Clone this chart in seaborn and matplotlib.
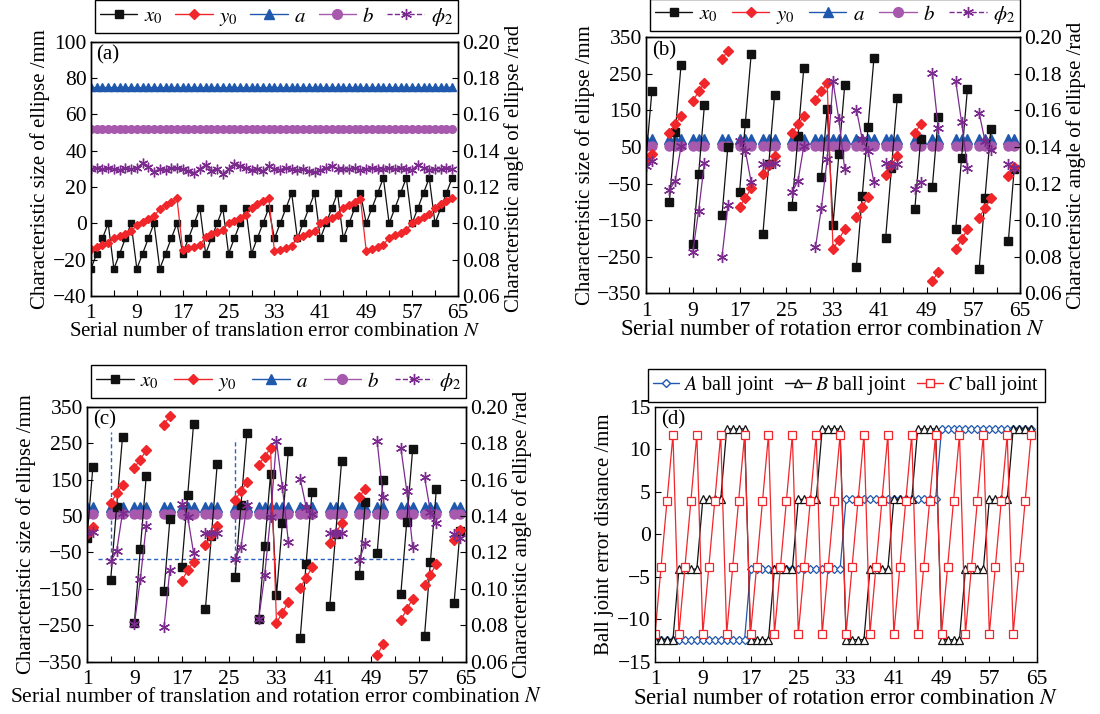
import numpy as np
import pandas as pd
import matplotlib
matplotlib.use("Agg")
import matplotlib.pyplot as plt
from matplotlib.lines import Line2D
from matplotlib.ticker import FormatStrFormatter
import seaborn as sns

nan = np.nan
N = np.arange(1, 65)

# (a) translation error combinations
a_x0 = [
    -25, -16.7, -8.3, 0, -25, -16.7, -8.3, 0, -25, -16.7, -8.3, 0, -25, -16.7, -8.3, 0,
    -16.7, -8.3, 0, 8.3, -16.7, -8.3, 0, 8.3, -16.7, -8.3, 0, 8.3, -16.7, -8.3, 0, 8.3,
    -8.3, 0, 8.3, 16.7, -8.3, 0, 8.3, 16.7, -8.3, 0, 8.3, 16.7, -8.3, 0, 8.3, 16.7,
    0, 8.3, 16.7, 25, 0, 8.3, 16.7, 25, 0, 8.3, 16.7, 25, 0, 8.3, 16.7, 25,
]
a_y0 = [
    -14.0, -13.2, -12.1, -11.0, -8.3, -7.1, -5.6, -4.4, -1.0, 0.8, 2.4, 4.0, 8.0, 9.9, 11.8, 13.8,
    -14.8, -13.8, -12.8, -11.7, -7.5, -6.1, -4.8, -3.5, 0.0, 1.5, 3.0, 4.6, 8.6, 10.4, 12.2, 14.0,
    -15.2, -14.4, -13.4, -12.2, -8.2, -6.8, -5.5, -4.0, 0.0, 1.6, 3.2, 4.8, 8.4, 10.2, 12.0, 13.4,
    -15.0, -14.0, -13.0, -11.8, -7.8, -6.5, -5.2, -3.8, 0.2, 1.8, 3.4, 5.0, 8.6, 10.4, 12.2, 14.2,
]
a_size_a = [75.0] * 64
a_size_b = [52.0] * 64
a_phi2 = [
    0.1300, 0.1305, 0.1298, 0.1302, 0.1300, 0.1296, 0.1303, 0.1299, 0.1306, 0.1330, 0.1310, 0.1285, 0.1300, 0.1296, 0.1302, 0.1304,
    0.1298, 0.1290, 0.1276, 0.1300, 0.1322, 0.1290, 0.1300, 0.1272, 0.1300, 0.1326, 0.1318, 0.1302, 0.1296, 0.1300, 0.1288, 0.1318,
    0.1300, 0.1296, 0.1304, 0.1300, 0.1293, 0.1300, 0.1288, 0.1280, 0.1292, 0.1303, 0.1318, 0.1300, 0.1298, 0.1300, 0.1304, 0.1296,
    0.1300, 0.1302, 0.1298, 0.1300, 0.1305, 0.1298, 0.1302, 0.1300, 0.1296, 0.1322, 0.1306, 0.1296, 0.1300, 0.1300, 0.1302, 0.1298,
]

# (b) rotation error combinations (nan = no ellipse)
b_x0 = [
    19, 202, nan, nan, -99, 91, 275, nan, -214, -24, 166, nan, nan, -137, 50, nan,
    -74, 117, 305, nan, -187, 3, 193, nan, nan, -110, 80, 266, nan, nan, -33, 155,
    -162, 30, 219, nan, -277, -83, 106, 293, nan, -199, -7, 184, nan, nan, -119, 73,
    nan, -58, 132, nan, nan, -173, 21, 209, nan, -284, -90, 98, nan, nan, -208, -10,
]
b_y0 = [
    15, 30, nan, nan, 89, 112, 136, nan, 175, 202, 225, nan, nan, 290, 314, nan,
    -114, -89, -63, nan, -24, 1, 26, nan, nan, 89, 112, 135, nan, 178, 202, 225,
    -230, -203, -174, nan, -142, -114, -87, nan, nan, -27, 0, 26, nan, nan, 89, 112,
    nan, -316, -291, nan, nan, -230, -202, -175, nan, -143, -117, -90, nan, nan, -29, -5,
]
b_phi2 = [
    0.1297, 0.1324, nan, nan, 0.1166, 0.1215, 0.1405, nan, 0.0826, 0.1052, 0.1315, nan, nan, 0.0799, 0.1083, nan,
    0.1433, 0.1378, 0.1207, nan, 0.1306, 0.1306, 0.1315, nan, nan, 0.1155, 0.1215, 0.1405, nan, 0.0853, 0.1065, 0.1333,
    0.1759, 0.1551, 0.1279, nan, 0.1605, 0.1442, 0.1378, 0.1207, nan, 0.1315, 0.1297, 0.1306, nan, nan, 0.1170, 0.1210,
    nan, 0.1804, 0.1505, nan, nan, 0.1759, 0.1536, 0.1288, nan, 0.1587, 0.1433, 0.1384, nan, nan, 0.1306, 0.1283,
]
b_size_a = 71.0
b_size_b = 53.0

# (c) translation + rotation error combinations
c_x0 = [
    -10, 186, nan, nan, -125, 75, 268, nan, -243, -41, 159, nan, nan, -156, 41, nan,
    -90, 107, 303, nan, -205, -5, 194, nan, nan, -117, 80, 277, nan, -232, -32, 166,
    -168, 32, 228, nan, -286, -81, 116, nan, nan, -197, 2, 201, nan, nan, -111, 89,
    nan, -52, 150, nan, nan, -164, 34, 234, nan, -279, -75, 123, nan, nan, -188, 10,
]
c_y0 = [
    0, 20, nan, nan, 85, 112, 134, nan, 183, 205, 230, nan, nan, 301, 325, nan,
    -127, -99, -75, nan, -29, -3, 23, nan, nan, 94, 118, 143, nan, 191, 213, 237,
    -243, -215, -186, nan, -147, -120, -90, nan, nan, -23, 3, 30, nan, nan, 103, 125,
    nan, -332, -302, nan, nan, -236, -206, -177, nan, -138, -111, -81, nan, nan, -16, 12,
]
c_phi2 = [
    0.1306, 0.1310, nan, nan, 0.1151, 0.1206, 0.1419, nan, 0.0807, 0.1052, 0.1346, nan, nan, 0.0789, 0.1106, nan,
    0.1466, 0.1397, 0.1197, nan, 0.1306, 0.1306, 0.1306, nan, nan, 0.1165, 0.1230, 0.1460, nan, 0.0834, 0.1074, 0.1397,
    0.1811, 0.1557, 0.1260, nan, 0.1606, 0.1451, 0.1411, nan, nan, 0.1306, 0.1306, 0.1306, nan, nan, 0.1161, 0.1252,
    nan, 0.1811, 0.1506, nan, nan, 0.1775, 0.1538, 0.1230, nan, 0.1615, 0.1424, 0.1361, nan, nan, 0.1302, 0.1280,
]
c_size_a = 75.0
c_size_b = 55.0
# dotted guide lines drawn in (c)
c_guide_x = [5, 26]
c_guide_top = [280, 262]
c_guide_bottom = [-68, -100]
c_guide_y = -68
c_guide_from, c_guide_to = 2.8, 56.2

# (d) ball joint error distance
d_A = [
    -12.4, -12.4, -12.4, -12.4, -12.4, -12.4, -12.4, -12.4, -12.4, -12.4, -12.4, -12.4, -12.4, -12.4, -12.4, -12.4,
    -4.1, -4.1, -4.1, -4.1, -4.1, -4.1, -4.1, -4.1, -4.1, -4.1, -4.1, -4.1, -4.1, -4.1, -4.1, -4.1,
    4.1, 4.1, 4.1, 4.1, 4.1, 4.1, 4.1, 4.1, 4.1, 4.1, 4.1, 4.1, 4.1, 4.1, 4.1, 4.1,
    12.4, 12.4, 12.4, 12.4, 12.4, 12.4, 12.4, 12.4, 12.4, 12.4, 12.4, 12.4, 12.4, 12.4, 12.4, 12.4,
]
d_B = [
    -12.4, -12.4, -12.4, -12.4, -4.1, -4.1, -4.1, -4.1, 4.1, 4.1, 4.1, 4.1, 12.4, 12.4, 12.4, 12.4,
    -12.4, -12.4, -12.4, -12.4, -4.1, -4.1, -4.1, -4.1, 4.1, 4.1, 4.1, 4.1, 12.4, 12.4, 12.4, 12.4,
    -12.4, -12.4, -12.4, -12.4, -4.1, -4.1, -4.1, -4.1, 4.1, 4.1, 4.1, 4.1, 12.4, 12.4, 12.4, 12.4,
    -12.4, -12.4, -12.4, -12.4, -4.1, -4.1, -4.1, -4.1, 4.1, 4.1, 4.1, 4.1, 12.4, 12.4, 12.4, 12.4,
]
d_C = [
    -11.7, -3.9, 3.9, 11.7, -11.7, -3.9, 3.9, 11.7, -11.7, -3.9, 3.9, 11.7, -11.7, -3.9, 3.9, 11.7,
    -11.7, -3.9, 3.9, 11.7, -11.7, -3.9, 3.9, 11.7, -11.7, -3.9, 3.9, 11.7, -11.7, -3.9, 3.9, 11.7,
    -11.7, -3.9, 3.9, 11.7, -11.7, -3.9, 3.9, 11.7, -11.7, -3.9, 3.9, 11.7, -11.7, -3.9, 3.9, 11.7,
    -11.7, -3.9, 3.9, 11.7, -11.7, -3.9, 3.9, 11.7, -11.7, -3.9, 3.9, 11.7, -11.7, -3.9, 3.9, 11.7,
]

BLACK = "#111111"
RED = "#f0262a"
BLUE = "#1f58ad"
LPURPLE = "#a659ad"
DPURPLE = "#7b2a8e"
ASTER = (6, 2, 0)
TICK_FS = 15.5
LABEL_FS = 15

sns.set_theme(style="ticks")
plt.rcParams.update({
    "font.family": ["Liberation Serif", "DejaVu Serif"],
    "mathtext.fontset": "stix",
    "axes.edgecolor": "black",
    "axes.linewidth": 1.0,
    "axes.labelcolor": "black",
    "text.color": "black",
    "xtick.color": "black",
    "ytick.color": "black",
})


def draw(ax, values, color, marker, ms, mfc=None, lw=0.9, mew=1.0):
    # one line per run of existing values, so gaps stay open
    df = pd.DataFrame({"N": N, "v": values})
    df["run"] = df["v"].isna().cumsum()
    df = df.dropna()
    sns.lineplot(data=df, x="N", y="v", units="run", estimator=None, sort=False,
                 color=color, marker=marker, markersize=ms,
                 markerfacecolor=color if mfc is None else mfc,
                 markeredgecolor=color, markeredgewidth=mew,
                 linewidth=lw, legend=False, ax=ax)


def frame(ax, ylim, yticks, ylabel, xlabel, tag, xlabel_fs):
    ax.set_xlim(1, 65)
    ax.set_xticks(range(1, 66, 8))
    ax.set_xticks(range(5, 62, 8), minor=True)
    ax.set_ylim(*ylim)
    ax.set_yticks(yticks)
    ax.tick_params(which="both", direction="in", length=4, width=0.8,
                   labelsize=TICK_FS, top=False)
    ax.tick_params(axis="x", which="both", pad=6)
    ax.tick_params(axis="y", pad=3)
    ax.set_ylabel(ylabel, fontsize=LABEL_FS, labelpad=2)
    ax.set_xlabel(xlabel, fontsize=xlabel_fs, labelpad=-1)
    ax.text(0.015, 0.985, tag, transform=ax.transAxes, ha="left", va="top", fontsize=LABEL_FS)


def top_legend(ax, handles, y0, fs, hl):
    leg = ax.legend(handles=handles, loc="lower left", bbox_to_anchor=(0.01, y0, 0.99, 0.1),
                    mode="expand", ncol=len(handles), borderaxespad=0, fontsize=fs,
                    frameon=True, fancybox=False, framealpha=1, edgecolor="black",
                    handlelength=hl, handletextpad=0.3, borderpad=0.25, columnspacing=0.3)
    leg.get_frame().set_linewidth(1.0)


def ellipse_handles(ms):
    return [
        Line2D([], [], color=BLACK, marker="s", ms=ms, lw=1, label=r"$x_0$"),
        Line2D([], [], color=RED, marker="D", ms=ms - 1, lw=1, label=r"$y_0$"),
        Line2D([], [], color=BLUE, marker="^", ms=ms + 1, lw=1, label=r"$a$"),
        Line2D([], [], color=LPURPLE, marker="o", ms=ms + 1, lw=1, label=r"$b$"),
        Line2D([], [], color=DPURPLE, marker=ASTER, ms=ms + 2, mew=1, lw=1, ls="--",
               label=r"$\phi_2$"),
    ]


def ellipse_panel(rect, x0, y0, size_a, size_b, phi2, ylim, yticks, xlabel, tag, ms,
                  leg_y, xlabel_fs):
    ax = fig.add_axes(rect)
    ax2 = ax.twinx()
    draw(ax, size_a, BLUE, "^", ms + 1)
    draw(ax, size_b, LPURPLE, "o", ms + 0.5)
    draw(ax, x0, BLACK, "s", ms)
    draw(ax, y0, RED, "D", ms - 1)
    draw(ax2, phi2, DPURPLE, ASTER, ms + 2, lw=0.9)
    frame(ax, ylim, yticks, "Characteristic size of ellipse /mm", xlabel, tag, xlabel_fs)
    ax2.set_ylim(0.06, 0.20)
    ax2.set_yticks(np.arange(0.06, 0.2001, 0.02))
    ax2.yaxis.set_major_formatter(FormatStrFormatter("%.2f"))
    ax2.tick_params(direction="in", length=4, width=0.8, labelsize=TICK_FS, pad=3)
    ax2.set_ylabel("Characteristic angle of ellipse /rad", fontsize=LABEL_FS, labelpad=3)
    top_legend(ax, ellipse_handles(6), leg_y, 15, 1.8)
    return ax


def exists(*series):
    return np.any([~np.isnan(np.asarray(s, dtype=float)) for s in series], axis=0)


fig = plt.figure(figsize=(11, 7.14), dpi=100)

ellipse_panel([0.0827, 0.5854, 0.3336, 0.3562], a_x0, a_y0, a_size_a, a_size_b, a_phi2,
              (-40, 100), range(-40, 101, 20),
              r"Serial number of translation error combination $N$", "(a)", 5, 1.035, 15)

b_ok = exists(b_x0, b_y0, b_phi2)
ellipse_panel([0.5873, 0.5892, 0.3400, 0.3585], b_x0, b_y0,
              np.where(b_ok, b_size_a, nan), np.where(b_ok, b_size_b, nan), b_phi2,
              (-350, 350), range(-350, 351, 100),
              r"Serial number of rotation error combination $N$", "(b)", 6, 1.025, 16.5)

c_ok = exists(c_x0, c_y0, c_phi2)
ax_c = ellipse_panel([0.0791, 0.0732, 0.3445, 0.3571], c_x0, c_y0,
                     np.where(c_ok, c_size_a, nan), np.where(c_ok, c_size_b, nan), c_phi2,
                     (-350, 350), range(-350, 351, 100),
                     r"Serial number of translation and rotation error combination $N$",
                     "(c)", 6, 1.035, 15.5)
ax_c.vlines(c_guide_x, c_guide_bottom, c_guide_top, colors="#2b62c4",
            linestyles=(0, (3, 2)), linewidth=1.0, zorder=1.5)
ax_c.hlines(c_guide_y, c_guide_from, c_guide_to, colors="#2b62c4",
            linestyles=(0, (3, 2)), linewidth=1.0, zorder=1.5)

ax_d = fig.add_axes([0.5955, 0.0732, 0.3473, 0.3571])
draw(ax_d, d_A, BLUE, "D", 4.5, mfc="white", mew=0.9)
draw(ax_d, d_B, BLACK, "^", 6, mfc="white", mew=0.9)
draw(ax_d, d_C, RED, "s", 6, mfc="white", mew=0.9)
frame(ax_d, (-15, 15), range(-15, 16, 5), "Ball joint error distance /mm",
      r"Serial number of rotation error combination $N$", "(d)", 16.5)
ax_d.tick_params(right=False)
d_handles = [
    Line2D([], [], color=BLUE, marker="D", ms=4.5, mfc="white", lw=1, label=r"$A$ ball joint"),
    Line2D([], [], color=BLACK, marker="^", ms=6, mfc="white", lw=1, label=r"$B$ ball joint"),
    Line2D([], [], color=RED, marker="s", ms=6, mfc="white", lw=1, label=r"$C$ ball joint"),
]
d_leg = ax_d.legend(handles=d_handles, loc="lower center", bbox_to_anchor=(0.5, 1.02),
                    ncol=3, borderaxespad=0, fontsize=14.5, frameon=True, fancybox=False,
                    framealpha=1, edgecolor="black", handlelength=1.3, handletextpad=0.2,
                    borderpad=0.25, columnspacing=0.5)
d_leg.get_frame().set_linewidth(1.0)

fig.savefig("out.png", dpi=100)
